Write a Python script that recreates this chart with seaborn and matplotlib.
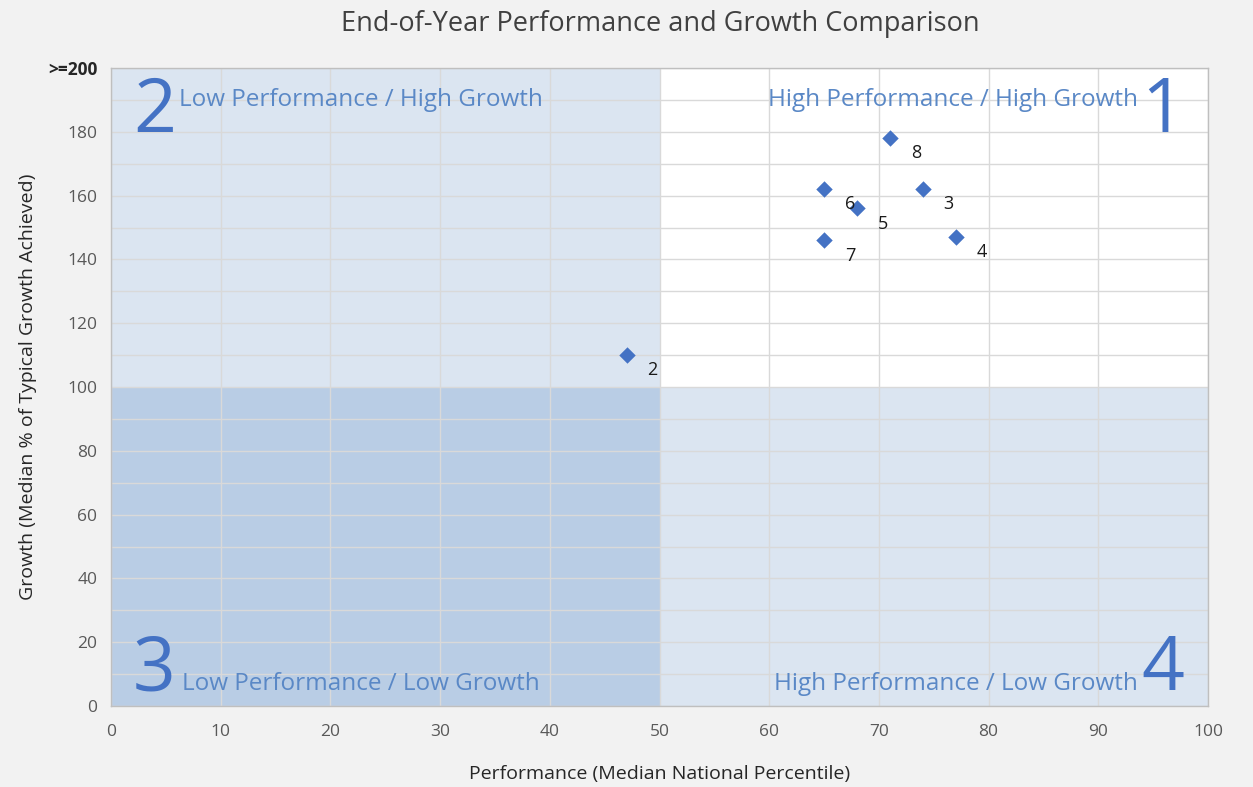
import numpy as np
import pandas as pd
import matplotlib
matplotlib.use("Agg")
import matplotlib.pyplot as plt
import seaborn as sns

# ------------- #
# Chart data    #
# ------------- #
school_ids = ["2", "3", "4", "5", "6", "7", "8"]
performance = [47, 74, 77, 68, 65, 65, 71]
growth = [110, 162, 147, 156, 162, 146, 178]

x_ticks = [0, 10, 20, 30, 40, 50, 60, 70, 80, 90, 100]
y_ticks = [0, 20, 40, 60, 80, 100, 120, 140, 160, 180, 200]
y_tick_labels = ["0", "20", "40", "60", "80", "100", "120", "140", "160", "180", ">=200"]

quadrant_names = [
    "High Performance / High Growth",
    "Low Performance / High Growth",
    "Low Performance / Low Growth",
    "High Performance / Low Growth",
]

df = pd.DataFrame({"school": school_ids, "perf": performance, "growth": growth})

sns.set_style("white")
plt.rcParams["font.family"] = ["Open Sans", "DejaVu Sans"]

fig = plt.figure(figsize=(12.53, 7.87), dpi=100, facecolor="#f2f2f2")
ax = fig.add_axes([0.0886, 0.1029, 0.8755, 0.8107])
ax.set_facecolor("white")

# quadrant shading
light_blue = "#dbe5f1"
mid_blue = "#b9cde5"
ax.fill_between([0, 50], 100, 200, color=light_blue, zorder=0, lw=0)
ax.fill_between([0, 50], 0, 100, color=mid_blue, zorder=0, lw=0)
ax.fill_between([50, 100], 0, 100, color=light_blue, zorder=0, lw=0)

# gridlines
for gx in x_ticks:
    ax.axvline(gx, color="#d9d9d9", lw=1, zorder=1)
for gy in np.arange(0, 201, 10):
    ax.axhline(gy, color="#d9d9d9", lw=1, zorder=1)

sns.scatterplot(data=df, x="perf", y="growth", marker="D", s=70,
                color="#4472c4", edgecolor="#4472c4", linewidth=0, ax=ax, zorder=3)

for _, row in df.iterrows():
    ax.annotate(row["school"], (row["perf"], row["growth"]),
                xytext=(15, -11), textcoords="offset points",
                fontsize=13, color="#1a1a1a", ha="left", va="center", zorder=4)

# quadrant labels
txt_c = "#5a88c6"
num_c = "#4472c4"
ax.text(93.6, 190, quadrant_names[0], color=txt_c, fontsize=17.5, ha="right", va="center")
ax.text(97.8, 186, "1", color=num_c, fontsize=54, ha="right", va="center")
ax.text(6.2, 190, quadrant_names[1], color=txt_c, fontsize=17.5, ha="left", va="center")
ax.text(2.0, 186, "2", color=num_c, fontsize=54, ha="left", va="center")
ax.text(6.5, 7, quadrant_names[2], color=txt_c, fontsize=17.5, ha="left", va="center")
ax.text(2.0, 11, "3", color=num_c, fontsize=54, ha="left", va="center")
ax.text(93.6, 7, quadrant_names[3], color=txt_c, fontsize=17.5, ha="right", va="center")
ax.text(97.8, 11, "4", color=num_c, fontsize=54, ha="right", va="center")

ax.set_xlim(0, 100)
ax.set_ylim(0, 200)
ax.set_xticks(x_ticks)
ax.set_yticks(y_ticks)
ax.set_yticklabels(y_tick_labels)
ax.tick_params(axis="both", length=0, labelsize=12.5, labelcolor="#595959", pad=10)
ax.tick_params(axis="x", pad=13)
top_lbl = ax.get_yticklabels()[-1]
top_lbl.set_fontweight("bold")
top_lbl.set_color("#262626")

for side in ["top", "right", "left", "bottom"]:
    ax.spines[side].set_color("#bfbfbf")
    ax.spines[side].set_linewidth(1)

ax.set_xlabel("Performance (Median National Percentile)", fontsize=14, color="#262626", labelpad=18)
ax.set_ylabel("Growth (Median % of Typical Growth Achieved)", fontsize=14, color="#262626", labelpad=8)

fig.text(0.527, 0.969, "End-of-Year Performance and Growth Comparison",
         fontsize=19.5, color="#404040", ha="center", va="center")

plt.savefig("out.png", dpi=100, facecolor=fig.get_facecolor())
